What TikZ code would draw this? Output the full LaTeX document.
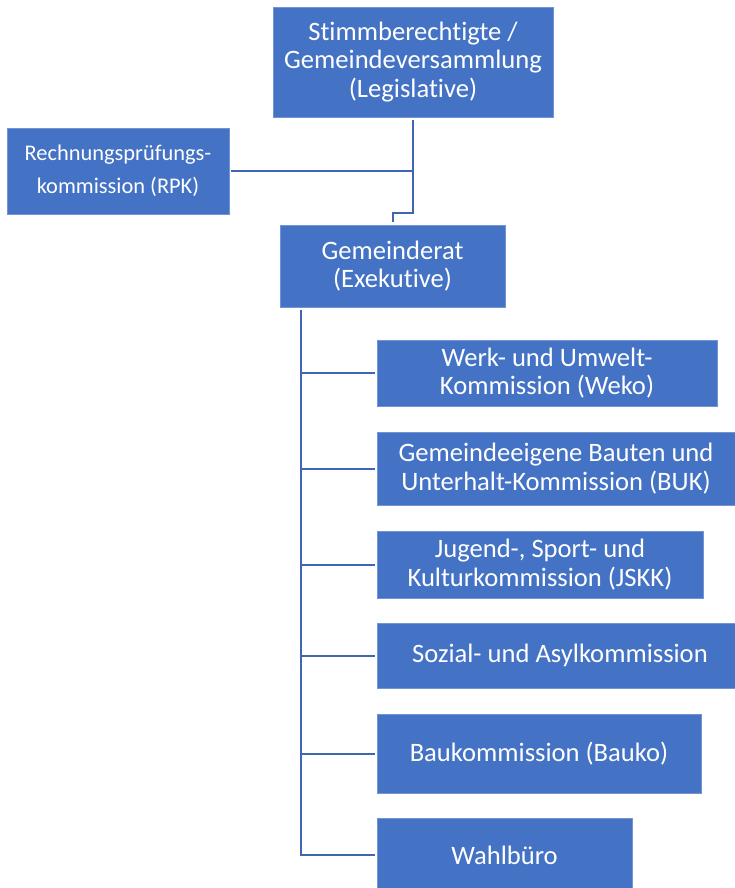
\documentclass[tikz,border=0pt]{standalone}
\usepackage{fontspec}
\setmainfont{Carlito}[Ligatures=NoCommon]
\usepackage{tikz}

\definecolor{boxblau}{HTML}{4472C4}
\definecolor{randblau}{HTML}{7393D2}
\definecolor{linienblau}{HTML}{3F66B2}

\begin{document}
\begin{tikzpicture}[x=1pt,y=-1pt,
  gremium/.style={rectangle,fill=boxblau,draw=randblau,line width=0.8pt,
    text=white,align=center,inner sep=0pt,
    font=\fontsize{26.6}{28.5}\selectfont},
  linie/.style={draw=linienblau,line width=2pt}]
\useasboundingbox (0,0) rectangle (735,888);

% Legislative, RPK und Exekutive
\node[gremium,minimum width=280pt,minimum height=110pt] (stimm) at (413,62)
  {Stimmberechtigte /\\Gemeindeversammlung\\(Legislative)};
\node[gremium,minimum width=222pt,minimum height=86pt,
  font=\fontsize{22.4}{33}\selectfont] (rpk) at (118,171)
  {Rechnungsprüfungs-\\kommission (RPK)};
\node[gremium,minimum width=225pt,minimum height=82pt] (gr) at (392.5,266)
  {Gemeinderat\\(Exekutive)};

% Kommissionen
\node[gremium,minimum width=340pt,minimum height=66pt] (weko) at (547,373)
  {Werk- und Umwelt-\\Kommission (Weko)};
\node[gremium,minimum width=358pt,minimum height=73pt] (buk) at (556,468.5)
  {Gemeindeeigene Bauten und\\Unterhalt-Kommission (BUK)};
\node[gremium,minimum width=326pt,minimum height=67pt] (jskk) at (540,564.5)
  {Jugend-, Sport- und\\Kulturkommission (JSKK)};
\node[gremium,minimum width=366pt,minimum height=65pt] (sozial) at (560,655.5)
  {Sozial- und Asylkommission};
\node[gremium,minimum width=324pt,minimum height=79pt] (bauko) at (539,753.5)
  {Baukommission (Bauko)};
\node[gremium,minimum width=255pt,minimum height=74pt] (wahl) at (504.5,855)
  {Wahlbüro};

% Verbindungen
\coordinate (knick) at (413,213);
\draw[linie,shorten <=3pt,shorten >=3pt] (stimm.south) -- (knick) -| (gr.north);
\draw[linie,shorten <=2pt] (rpk.east) -- (rpk.east -| knick);

\coordinate (stamm) at (301,310);
\draw[linie,shorten >=2pt] (stamm) |- (wahl.west);
\foreach \k in {weko,buk,jskk,sozial,bauko}
  \draw[linie,shorten >=2pt] (stamm |- \k.west) -- (\k.west);
\end{tikzpicture}
\end{document}
